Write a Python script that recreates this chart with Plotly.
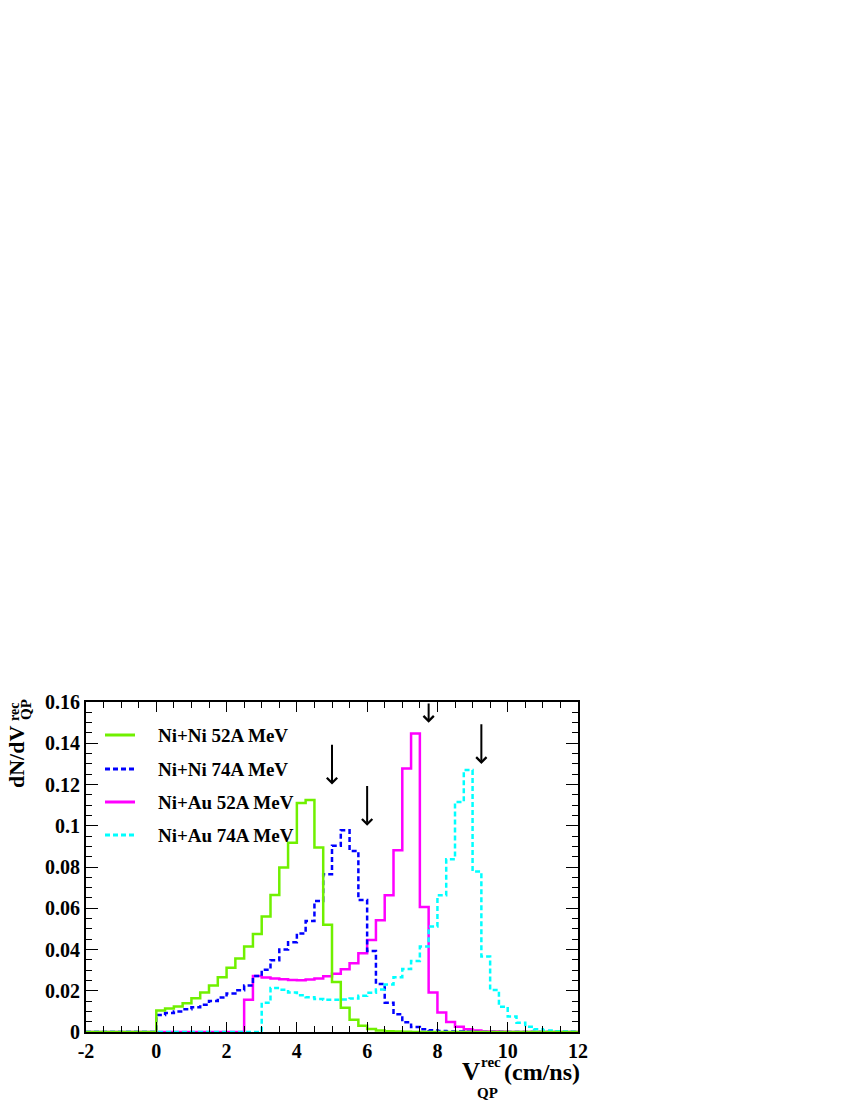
import plotly.graph_objects as go

# ── data (bin width 0.25 cm/ns, histogram range -2 .. 12) ───────────────────
BIN_LO, BIN_HI, BIN_W = -2.0, 12.0, 0.25

labels = ["Ni+Ni 52A MeV", "Ni+Ni 74A MeV", "Ni+Au 52A MeV", "Ni+Au 74A MeV"]

nini52_start = 0.0
nini52 = [0.0104, 0.0114, 0.0124, 0.0140, 0.0164, 0.0191, 0.0225, 0.0266,
          0.0311, 0.0356, 0.0414, 0.0475, 0.0560, 0.0664, 0.0797, 0.0918,
          0.1110, 0.1125, 0.0894, 0.0520, 0.0242, 0.0118, 0.0060, 0.0030,
          0.0014, 0.0007, 0.0004, 0.0002, 0.0001]

nini74_start = 0.0
nini74 = [0.0083, 0.0092, 0.0100, 0.0110, 0.0120, 0.0132, 0.0150, 0.0167,
          0.0187, 0.0203, 0.0225, 0.0271, 0.0302, 0.0348, 0.0400, 0.0435,
          0.0478, 0.0538, 0.0635, 0.0765, 0.0903, 0.0978, 0.0878, 0.0640,
          0.0393, 0.0233, 0.0142, 0.0086, 0.0047, 0.0024, 0.0013, 0.0008,
          0.0005, 0.0003, 0.0002, 0.0001]

niau52_start = 2.5
niau52 = [0.0156, 0.0272, 0.0264, 0.0259, 0.0256, 0.0252, 0.0251, 0.0254,
          0.0260, 0.0270, 0.0282, 0.0304, 0.0333, 0.0382, 0.0446, 0.0542,
          0.0663, 0.0881, 0.1277, 0.1447, 0.0606, 0.0191, 0.0094, 0.0048,
          0.0026, 0.0013, 0.0007, 0.0003, 0.0002, 0.0001]

niau74_start = 3.0
niau74 = [0.0142, 0.0213, 0.0205, 0.0192, 0.0178, 0.0168, 0.0160, 0.0156,
          0.0156, 0.0158, 0.0163, 0.0176, 0.0190, 0.0206, 0.0230, 0.0266,
          0.0305, 0.0344, 0.0414, 0.0511, 0.0663, 0.0837, 0.1115, 0.1270,
          0.0778, 0.0366, 0.0204, 0.0123, 0.0075, 0.0045, 0.0026, 0.0013,
          0.0007, 0.0004, 0.0002, 0.0001]

arrow_x = [5.0, 6.0, 7.75, 9.25]
arrow_tail = [0.14, 0.12, 0.16, 0.15]
arrow_tip = [0.12, 0.10, 0.15, 0.13]

x_tickvals = [-2, 0, 2, 4, 6, 8, 10, 12]
x_ticktext = ["-2", "0", "2", "4", "6", "8", "10", "12"]

# ── style ───────────────────────────────────────────────────────────────────
FONT = "Liberation Serif, Times New Roman, serif"
GREEN, BLUE, MAGENTA, CYAN = "#70f000", "#0000ff", "#ff00ff", "#00ffff"
DASH = "5px,3px"

# the html body adds an 8px margin, so the figure is 8px smaller
# and everything below is given in page pixels
OFF = 8
PAGE_W, PAGE_H = 850, 1100
X0, X1, Y0, Y1 = 86, 578, 702, 1032    # plot frame on the page
W, H = PAGE_W - OFF, PAGE_H - OFF


def px(x):
    return (x - X0) / (X1 - X0)


def py(y):
    return (Y1 - y) / (Y1 - Y0)


def hist_xy(start, vals):
    n = int(round((BIN_HI - BIN_LO) / BIN_W))
    full = [0.0] * n
    i0 = int(round((start - BIN_LO) / BIN_W))
    for k, v in enumerate(vals):
        if i0 + k < n:
            full[i0 + k] = v
    edges = [BIN_LO + i * BIN_W for i in range(n + 1)]
    return edges, full + [full[-1]]


series = [
    (niau52_start, niau52, MAGENTA, "solid", labels[2]),
    (nini74_start, nini74, BLUE, DASH, labels[1]),
    (niau74_start, niau74, CYAN, DASH, labels[3]),
    (nini52_start, nini52, GREEN, "solid", labels[0]),
]

fig = go.Figure()
for start, vals, col, dash, name in series:
    xs, ys = hist_xy(start, vals)
    fig.add_trace(go.Scatter(
        x=xs, y=ys, mode="lines", name=name, line_shape="hv",
        line=dict(color=col, width=2.5, dash=dash),
        showlegend=False,
        hovertemplate=name + "<br>V=%{x}<br>%{y}<extra></extra>",
    ))

# arrows
for xa, yt, yh in zip(arrow_x, arrow_tail, arrow_tip):
    fig.add_annotation(
        x=xa, y=yh, ax=xa, ay=yt, xref="x", yref="y", axref="x", ayref="y",
        text="", showarrow=True, arrowhead=4, arrowsize=1, arrowwidth=2,
        arrowcolor="black",
    )

# hand-placed legend (ROOT style)
leg_cols = [GREEN, BLUE, MAGENTA, CYAN]
leg_dash = ["solid", DASH, "solid", DASH]
leg_rows = [735, 769, 802, 835]
for lab, col, dash, yr in zip(labels, leg_cols, leg_dash, leg_rows):
    fig.add_shape(type="line", xref="paper", yref="paper",
                  x0=px(105), x1=px(135), y0=py(yr), y1=py(yr),
                  line=dict(color=col, width=3, dash=dash))
    fig.add_annotation(x=px(156), y=py(yr), xref="paper", yref="paper",
                       xanchor="left", yanchor="middle", showarrow=False,
                       text=lab, font=dict(family=FONT, size=19, color="black",
                                           weight="bold"))

# axis titles (ROOT TLatex-like stacked super/subscripts)
tfont = lambda s: dict(family=FONT, size=s, color="black", weight="bold")
titles = [
    # y title, rotated
    dict(x=px(16), y=py(757), text="dN/dV", font=tfont(22), textangle=-90,
         xanchor="center", yanchor="middle"),
    dict(x=px(14), y=py(712), text="rec", font=tfont(14), textangle=-90,
         xanchor="center", yanchor="middle"),
    dict(x=px(26), y=py(710), text="QP", font=tfont(15), textangle=-90,
         xanchor="center", yanchor="middle"),
    # x title
    dict(x=px(460), y=py(1071), text="V", font=tfont(25),
         xanchor="left", yanchor="middle"),
    dict(x=px(479), y=py(1062), text="rec", font=tfont(15),
         xanchor="left", yanchor="middle"),
    dict(x=px(475), y=py(1093), text="QP", font=tfont(15),
         xanchor="left", yanchor="middle"),
    dict(x=px(502), y=py(1072), text="(cm/ns)", font=tfont(24),
         xanchor="left", yanchor="middle"),
]
for t in titles:
    fig.add_annotation(xref="paper", yref="paper", showarrow=False, **t)

axis_common = dict(
    showline=True, linecolor="black", linewidth=2, mirror="allticks",
    ticks="inside", tickcolor="black", tickwidth=1,
    showgrid=False, zeroline=False,
    tickfont=dict(family=FONT, size=20, color="black", weight="bold"),
)

fig.update_layout(
    width=W, height=H,
    paper_bgcolor="white", plot_bgcolor="white",
    margin=dict(l=X0 - OFF, r=PAGE_W - X1, t=Y0 - OFF, b=PAGE_H - Y1),
    showlegend=False,
    xaxis=dict(**axis_common, range=[BIN_LO, BIN_HI], tickmode="array",
               tickvals=x_tickvals, ticktext=x_ticktext, ticklen=10,
               minor=dict(dtick=0.5, ticklen=6, ticks="inside",
                          tickcolor="black", showgrid=False)),
    yaxis=dict(**axis_common, range=[0, 0.16], tick0=0, dtick=0.02,
               ticklen=12,
               minor=dict(dtick=0.005, ticklen=6, ticks="inside",
                          tickcolor="black", showgrid=False)),
)

fig.write_html("out.html")
